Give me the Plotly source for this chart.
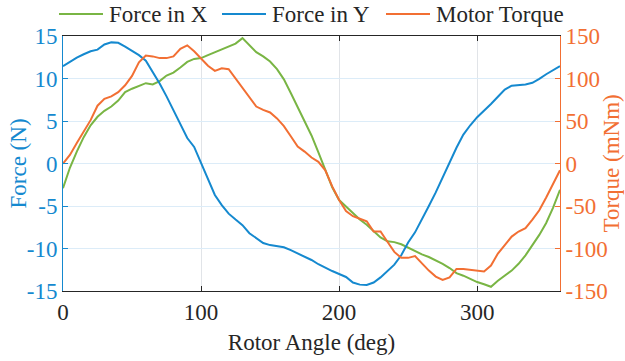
import plotly.graph_objects as go

# Rotor angle samples (deg)
angle = list(range(0, 361, 5))

# Force in X (N)
force_x = [
    -2.9, -0.5, 1.4, 3.1, 4.5, 5.5, 6.2, 6.7, 7.4, 8.4,
    8.8, 9.1, 9.45, 9.3, 9.7, 10.35, 10.7, 11.3, 11.95, 12.3,
    12.4, 12.75, 13.1, 13.45, 13.8, 14.1, 14.75, 13.9, 13.1, 12.6,
    12.0, 11.1, 9.9, 8.3, 6.6, 4.9, 3.3, 1.3, -0.8, -2.8,
    -4.3, -5.1, -5.9, -6.6, -7.2, -8.0, -8.7, -9.15, -9.25, -9.5,
    -9.9, -10.3, -10.7, -11.0, -11.4, -11.8, -12.3, -12.9, -13.2, -13.6,
    -13.95, -14.2, -14.5, -13.8, -13.2, -12.6, -11.8, -10.8, -9.6, -8.4,
    -7.0, -5.2, -3.1,
]

# Force in Y (N)
force_y = [
    11.45, 12.0, 12.45, 12.85, 13.2, 13.4, 14.0, 14.25, 14.2, 13.75,
    13.25, 12.75, 12.1, 10.8, 9.4, 7.9, 6.2, 4.6, 3.0, 1.95,
    0.05, -1.8, -3.7, -4.9, -5.9, -6.6, -7.25, -8.2, -8.8, -9.35,
    -9.6, -9.7, -9.85, -10.2, -10.6, -11.0, -11.35, -11.85, -12.3, -12.65,
    -13.0, -13.35, -14.0, -14.25, -14.3, -14.0, -13.4, -12.7, -11.9, -10.8,
    -9.3, -8.1, -6.6, -5.0, -3.4, -1.6, 0.1, 1.85, 3.4, 4.5,
    5.45, 6.2, 7.0, 7.85, 8.7, 9.15, 9.25, 9.3, 9.5, 9.95,
    10.5, 11.0, 11.45,
]

# Motor torque (mNm)
torque = [
    0, 10, 24, 37, 51, 68, 76, 79, 84, 92,
    103, 119, 127, 126, 124, 124, 126, 135, 139, 132,
    124, 115, 109, 112, 111, 100, 88, 77, 67, 63,
    60, 53, 44, 32, 20, 14, 7, 2, -8, -27,
    -43, -56, -62, -65, -68, -80, -80, -92, -104, -111,
    -111, -109, -118, -126, -133, -137, -134, -124, -124, -125,
    -126, -127, -120, -106, -96, -86, -80, -76, -66, -55,
    -40, -24, -8,
]

series_names = ["Force in X", "Force in Y", "Motor Torque"]

force_ticks = [-15, -10, -5, 0, 5, 10, 15]
torque_ticks = [-150, -100, -50, 0, 50, 100, 150]
angle_ticks = [0, 100, 200, 300]

GREEN = "#79B544"
BLUE = "#1589CF"
ORANGE = "#F26F33"
DARK = "#262626"
FONT = "'Liberation Serif', 'DejaVu Serif', serif"
FS = 23

W, H = 625, 361
ML, MR, MT, MB = 63, 65, 36, 70
PW = W - ML - MR
PH = H - MT - MB


def tick_labels(vals):
    # plain ASCII hyphen for negatives
    return [str(v) for v in vals]


def px_to_paper_x(px):
    return (px - ML) / PW


def px_to_paper_y(py):
    return 1 + (MT - py) / PH


colors = [GREEN, BLUE, ORANGE]
fig = go.Figure()
fig.add_trace(go.Scatter(x=angle, y=force_x, name=series_names[0], mode="lines",
                         line=dict(color=colors[0], width=2)))
fig.add_trace(go.Scatter(x=angle, y=force_y, name=series_names[1], mode="lines",
                         line=dict(color=colors[1], width=2)))
fig.add_trace(go.Scatter(x=angle, y=torque, name=series_names[2], mode="lines",
                         line=dict(color=colors[2], width=2), yaxis="y2"))

# Legend row above the axes: key line + label for each series
key_starts = [59, 222, 386]
key_len = 44
text_gap = 4
legend_y = px_to_paper_y(14)
for name, col, x0 in zip(series_names, colors, key_starts):
    fig.add_shape(type="line", xref="paper", yref="paper",
                  x0=px_to_paper_x(x0), x1=px_to_paper_x(x0 + key_len),
                  y0=legend_y, y1=legend_y, line=dict(color=col, width=2))
    fig.add_annotation(text=name, xref="paper", yref="paper",
                       x=px_to_paper_x(x0 + key_len + text_gap), xanchor="left",
                       y=legend_y, yanchor="middle", showarrow=False,
                       font=dict(family=FONT, size=FS, color=DARK))

# Vertical axis titles, placed as rotated labels beside each axis
fig.add_annotation(text="Force (N)", xref="paper", yref="paper",
                   x=px_to_paper_x(18), xanchor="center", y=0.5, yanchor="middle",
                   textangle=-90, showarrow=False,
                   font=dict(family=FONT, size=FS, color=BLUE))
fig.add_annotation(text="Torque (mNm)", xref="paper", yref="paper",
                   x=px_to_paper_x(611), xanchor="center", y=0.5, yanchor="middle",
                   textangle=-90, showarrow=False,
                   font=dict(family=FONT, size=FS, color=ORANGE))

fig.update_layout(
    width=W, height=H,
    margin=dict(l=ML, r=MR, t=MT, b=MB, autoexpand=False),
    paper_bgcolor="white", plot_bgcolor="white",
    font=dict(family=FONT, size=FS, color=DARK),
    showlegend=False,
    xaxis=dict(
        range=[0, 360], tickvals=angle_ticks, ticktext=tick_labels(angle_ticks),
        ticks="inside", ticklen=5, tickcolor=DARK, tickwidth=1,
        showline=True, linecolor=DARK, linewidth=1, mirror="ticks",
        showgrid=True, gridcolor="#E1E4E8", gridwidth=1, zeroline=False,
        tickfont=dict(family=FONT, size=FS, color=DARK),
        title=dict(text="Rotor Angle (deg)", font=dict(family=FONT, size=FS, color=DARK),
                   standoff=10),
    ),
    yaxis=dict(
        range=[-15, 15], tickvals=force_ticks, ticktext=tick_labels(force_ticks),
        ticks="inside", ticklen=5, tickcolor=BLUE, tickwidth=1,
        showline=True, linecolor=BLUE, linewidth=1,
        showgrid=True, gridcolor="#DCECF8", gridwidth=1, zeroline=False,
        tickfont=dict(family=FONT, size=FS, color=BLUE),
    ),
    yaxis2=dict(
        range=[-150, 150], tickvals=torque_ticks, ticktext=tick_labels(torque_ticks),
        overlaying="y", side="right",
        ticks="inside", ticklen=5, tickcolor=ORANGE, tickwidth=1,
        showline=True, linecolor=ORANGE, linewidth=1,
        showgrid=False, zeroline=False,
        tickfont=dict(family=FONT, size=FS, color=ORANGE),
    ),
)

fig.write_html("out.html")
